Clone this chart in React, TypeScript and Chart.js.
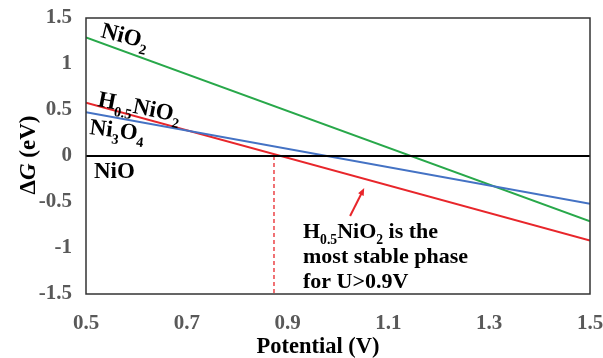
import React, { useEffect, useRef } from "react";
import { Chart, registerables } from "chart.js";

Chart.register(...registerables);

const potentials = [0.5, 1.5];
const nio2Values = [1.29, -0.71];
const h05nio2Values = [0.58, -0.92];
const ni3o4Values = [0.475, -0.52];
const nioValues = [0, 0];
const crossingPotential = 0.873;
const crossingRange = [0, -1.5];
const arrowFrom = [1.024, -0.652];
const arrowTo = [1.052, -0.348];
const xTickValues = [0.5, 0.7, 0.9, 1.1, 1.3, 1.5];
const xTickLabels = ["0.5", "0.7", "0.9", "1.1", "1.3", "1.5"];
const yTickValues = [1.5, 1, 0.5, 0, -0.5, -1, -1.5];
const yTickLabels = ["1.5", "1", "0.5", "0", "-0.5", "-1", "-1.5"];

const FONT = '"Liberation Serif", "Times New Roman", serif';

type Seg = { t: string; sub?: boolean; italic?: boolean };

function segWidth(ctx: CanvasRenderingContext2D, segs: Seg[], size: number) {
  let w = 0;
  for (const s of segs) {
    const fs = s.sub ? size * 0.62 : size;
    ctx.font = `${s.italic ? "italic " : ""}bold ${fs}px ${FONT}`;
    w += ctx.measureText(s.t).width;
  }
  return w;
}

function drawRich(
  ctx: CanvasRenderingContext2D,
  segs: Seg[],
  x: number,
  y: number,
  size: number,
  angle: number,
  color = "#000"
) {
  ctx.save();
  ctx.translate(x, y);
  ctx.rotate((angle * Math.PI) / 180);
  ctx.fillStyle = color;
  ctx.textAlign = "left";
  ctx.textBaseline = "alphabetic";
  let cx = 0;
  for (const s of segs) {
    const fs = s.sub ? size * 0.62 : size;
    ctx.font = `${s.italic ? "italic " : ""}bold ${fs}px ${FONT}`;
    ctx.fillText(s.t, cx, s.sub ? size * 0.28 : 0);
    cx += ctx.measureText(s.t).width;
  }
  ctx.restore();
}

const overlayPlugin = {
  id: "overlay",
  afterDatasetsDraw(chart: any) {
    const { ctx, chartArea, scales } = chart;
    const xs = scales.x;
    const ys = scales.y;
    ctx.save();
    ctx.strokeStyle = "#333";
    ctx.lineWidth = 1.5;
    ctx.strokeRect(chartArea.left, chartArea.top, chartArea.right - chartArea.left, chartArea.bottom - chartArea.top);
    ctx.restore();

    const x1 = xs.getPixelForValue(arrowFrom[0]);
    const y1 = ys.getPixelForValue(arrowFrom[1]);
    const x2 = xs.getPixelForValue(arrowTo[0]);
    const y2 = ys.getPixelForValue(arrowTo[1]);
    const ang = Math.atan2(y2 - y1, x2 - x1);
    const hl = 8;
    ctx.save();
    ctx.strokeStyle = "#e8262b";
    ctx.fillStyle = "#e8262b";
    ctx.lineWidth = 2;
    ctx.beginPath();
    ctx.moveTo(x1, y1);
    ctx.lineTo(x2 - Math.cos(ang) * hl * 0.8, y2 - Math.sin(ang) * hl * 0.8);
    ctx.stroke();
    ctx.beginPath();
    ctx.moveTo(x2, y2);
    ctx.lineTo(x2 - hl * Math.cos(ang - 0.4), y2 - hl * Math.sin(ang - 0.4));
    ctx.lineTo(x2 - hl * Math.cos(ang + 0.4), y2 - hl * Math.sin(ang + 0.4));
    ctx.closePath();
    ctx.fill();
    ctx.restore();

    drawRich(ctx, [{ t: "NiO" }, { t: "2", sub: true }], 100, 37, 23, 14);
    drawRich(ctx, [{ t: "H" }, { t: "0.5", sub: true }, { t: "NiO" }, { t: "2", sub: true }], 97, 106, 23, 11);
    drawRich(ctx, [{ t: "Ni" }, { t: "3", sub: true }, { t: "O" }, { t: "4", sub: true }], 89, 134, 23, 7);
    drawRich(ctx, [{ t: "NiO" }], 94, 178, 23, 0);

    drawRich(ctx, [{ t: "H" }, { t: "0.5", sub: true }, { t: "NiO" }, { t: "2", sub: true }, { t: " is the" }], 303, 238, 22, 0);
    drawRich(ctx, [{ t: "most stable phase" }], 303, 263, 22, 0);
    drawRich(ctx, [{ t: "for U>0.9V" }], 303, 288, 22, 0);

    const xt: Seg[] = [{ t: "Potential (V)" }];
    const xw = segWidth(ctx, xt, 22.5);
    drawRich(ctx, xt, 318 - xw / 2, 353, 22.5, 0);
    const yt: Seg[] = [{ t: "\u0394" }, { t: "G", italic: true }, { t: " (eV)" }];
    const yw = segWidth(ctx, yt, 23);
    ctx.save();
    ctx.translate(35, 155);
    ctx.rotate(-Math.PI / 2);
    drawRich(ctx, yt, -yw / 2, 0, 23, 0);
    ctx.restore();
  },
};

export default function App() {
  const ref = useRef<HTMLCanvasElement>(null);
  useEffect(() => {
    document.body.style.margin = "0";
    const toPts = (ys: number[]) => potentials.map((x, i) => ({ x, y: ys[i] }));
    const chart = new Chart(ref.current!, {
      type: "line",
      data: {
        datasets: [
          { data: toPts(nioValues), borderColor: "#000", borderWidth: 2, pointRadius: 0 },
          { data: toPts(ni3o4Values), borderColor: "#4472c4", borderWidth: 2, pointRadius: 0 },
          { data: toPts(nio2Values), borderColor: "#28a84a", borderWidth: 2, pointRadius: 0 },
          { data: toPts(h05nio2Values), borderColor: "#e8262b", borderWidth: 2, pointRadius: 0 },
          {
            data: crossingRange.map((y) => ({ x: crossingPotential, y })),
            borderColor: "#e8262b",
            borderWidth: 1.3,
            borderDash: [4, 3],
            pointRadius: 0,
          },
        ],
      },
      options: {
        animation: false,
        responsive: false,
        layout: { padding: { top: 18, right: 13, left: 0, bottom: 0 } },
        plugins: { legend: { display: false }, tooltip: { enabled: false } },
        scales: {
          x: {
            type: "linear",
            min: 0.5,
            max: 1.5,
            grid: { display: false, drawTicks: false },
            border: { display: false },
            afterFit: (s: any) => {
              s.height = 64;
              s.paddingLeft = 0;
              s.paddingRight = 0;
            },
            afterBuildTicks: (s: any) => {
              s.ticks = xTickValues.map((v) => ({ value: v }));
            },
            ticks: {
              padding: 17,
              color: "#595959",
              font: { family: FONT, size: 21, weight: "bold" },
              callback: (v: any) => {
                const i = xTickValues.findIndex((t) => Math.abs(t - v) < 1e-6);
                return i >= 0 ? xTickLabels[i] : "";
              },
              maxRotation: 0,
            },
          },
          y: {
            type: "linear",
            min: -1.5,
            max: 1.5,
            grid: { display: false, drawTicks: false },
            border: { display: false },
            afterFit: (s: any) => {
              s.width = 86;
              s.paddingTop = 0;
              s.paddingBottom = 0;
            },
            afterBuildTicks: (s: any) => {
              s.ticks = yTickValues.map((v) => ({ value: v }));
            },
            ticks: {
              padding: 14,
              color: "#595959",
              font: { family: FONT, size: 21, weight: "bold" },
              callback: (v: any) => {
                const i = yTickValues.findIndex((t) => Math.abs(t - v) < 1e-6);
                return i >= 0 ? yTickLabels[i] : "";
              },
            },
          },
        },
      },
      plugins: [overlayPlugin],
    } as any);
    return () => chart.destroy();
  }, []);
  return <canvas ref={ref} width={603} height={358} style={{ display: "block" }} />;
}
